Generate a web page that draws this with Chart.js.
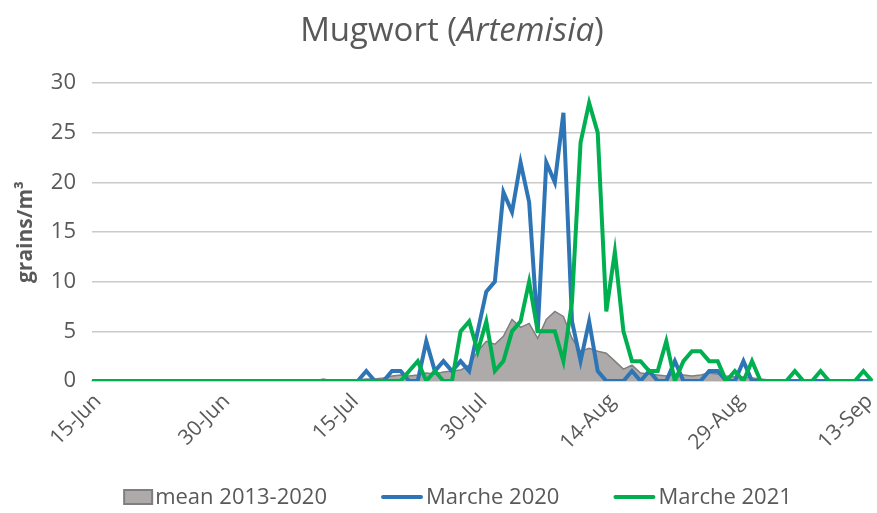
<!DOCTYPE html>
<html><head><meta charset="utf-8">
<script src="https://cdn.jsdelivr.net/npm/chart.js@4/dist/chart.umd.min.js"></script>
<style>html,body{margin:0;padding:0;background:#fff}#wrap{width:877px;height:513px}</style>
</head><body><div id="wrap"><canvas id="c" width="877" height="513"></canvas></div>
<script>
// ---- data ----
const startDay = {year: 2021, month: 5, day: 15}; // 15 June
const dayCount = 92;
const monthNames = ['Jan','Feb','Mar','Apr','May','Jun','Jul','Aug','Sep','Oct','Nov','Dec'];
const tickLabels = ['15-Jun','30-Jun','15-Jul','30-Jul','14-Aug','29-Aug','13-Sep'];
const yTickValues = [0,5,10,15,20,25,30];
const seriesNames = ['mean 2013-2020','Marche 2020','Marche 2021'];
const chartTitle = ['Mugwort (', 'Artemisia', ')'];
const yAxisTitle = 'grains/m³';

const mean2013_2020 = [
 0,0,0,0,0,0,0,0,0,0, 0,0,0,0,0,0,0,0,0,0, 0,0,0,0,0,0,0,0.2,0,0,
 0.05,0.1,0.2,0.2,0.3,0.5,0.6,0.5,0.6,0.8,
 0.7,0.9,1.0,1.1,1.6,3.0,4.0,3.7,4.5,6.2,
 5.4,5.8,4.3,6.2,7.0,6.5,4.3,3.0,3.3,3.0,
 2.8,2.0,1.2,1.6,0.8,0.7,0.6,0.5,0.7,0.6,
 0.5,0.6,0.8,0.7,0.5,0.4,0.4,0.3,0.2,0.1,
 0.1,0,0,0,0,0,0,0,0,0,0,0
];
const marche2020 = [
 0,0,0,0,0,0,0,0,0,0, 0,0,0,0,0,0,0,0,0,0, 0,0,0,0,0,0,0,0,0,0,
 0,0,1,0,0,1,1,0,0,4,
 1,2,1,2,1,5,9,10,19,17,
 22,18,5,22,20,27,6,2,6,1,
 0,0,0,1,0,1,0,0,2,0,
 0,0,1,1,0,0,2,0,0,0,
 0,0,0,0,0,0,0,0,0,0,0,0
];
const marche2021 = [
 0,0,0,0,0,0,0,0,0,0, 0,0,0,0,0,0,0,0,0,0, 0,0,0,0,0,0,0,0,0,0,
 0,0,0,0,0,0,0,1,2,0,
 1,0,0,5,6,3,6,1,2,5,
 6,10,5,5,5,2,8,24,28,25,
 7,13,5,2,2,1,1,4,0,2,
 3,3,2,2,0,1,0,2,0,0,
 0,0,1,0,0,1,0,0,0,0,1,0
];

// ---- build categories ----
const categories = [];
for (let i = 0; i < dayCount; i++) {
  const d = new Date(Date.UTC(startDay.year, startDay.month, startDay.day + i));
  categories.push(d.getUTCDate() + '-' + monthNames[d.getUTCMonth()]);
}

const TEXT = '#595959';
const FONT = '"Open Sans", sans-serif';
const colors = {mean: '#aeaaaa', meanBorder: '#7f7f7f', c2020: '#2e75b6', c2021: '#00b050'};

const titlePlugin = {
  id: 'mixedTitle',
  afterDraw(chart) {
    const ctx = chart.ctx;
    ctx.save();
    ctx.fillStyle = TEXT;
    ctx.textBaseline = 'alphabetic';
    const fonts = ['33px ' + FONT, 'italic 33px ' + FONT, '33px ' + FONT];
    let widths = chartTitle.map((t, i) => { ctx.font = fonts[i]; return ctx.measureText(t).width; });
    const total = widths.reduce((a, b) => a + b, 0);
    let x = 452 - total / 2;
    chartTitle.forEach((t, i) => { ctx.font = fonts[i]; ctx.textAlign = 'left'; ctx.fillText(t, x, 41); x += widths[i]; });
    ctx.restore();
  }
};

const legendPlugin = {
  id: 'bottomLegend',
  afterDraw(chart) {
    const ctx = chart.ctx;
    ctx.save();
    ctx.font = '22px ' + FONT;
    const items = chart.data.datasets.map(ds => ({ds, sym: ds.fill ? 28 : 42, w: ctx.measureText(ds.label).width}));
    const gap = 3, itemGap = 54;
    const total = items.reduce((a, it) => a + it.sym + gap + it.w, 0) + itemGap * (items.length - 1);
    let x = 458 - total / 2;
    const y = 497;
    items.forEach(it => {
      if (it.ds.fill) {
        ctx.fillStyle = it.ds.backgroundColor;
        ctx.fillRect(x, y - 7, it.sym, 14);
        ctx.strokeStyle = it.ds.borderColor; ctx.lineWidth = 2;
        ctx.strokeRect(x, y - 7, it.sym, 14);
      } else {
        ctx.strokeStyle = it.ds.borderColor; ctx.lineWidth = 4; ctx.lineCap = 'round';
        ctx.beginPath(); ctx.moveTo(x + 2, y); ctx.lineTo(x + it.sym - 2, y); ctx.stroke();
      }
      x += it.sym + gap;
      ctx.fillStyle = TEXT; ctx.textAlign = 'left'; ctx.textBaseline = 'middle';
      ctx.fillText(it.ds.label, x, y + 1);
      x += it.w + itemGap;
    });
    ctx.restore();
  }
};

new Chart(document.getElementById('c'), {
  type: 'line',
  data: {
    labels: categories,
    datasets: [
      {label: seriesNames[0], data: mean2013_2020, fill: 'origin', backgroundColor: colors.mean,
       borderColor: colors.meanBorder, borderWidth: 1.5, pointRadius: 0, tension: 0, order: 3},
      {label: seriesNames[1], data: marche2020, fill: false, borderColor: colors.c2020,
       backgroundColor: colors.c2020, borderWidth: 4, pointRadius: 0, tension: 0, order: 2},
      {label: seriesNames[2], data: marche2021, fill: false, borderColor: colors.c2021,
       backgroundColor: colors.c2021, borderWidth: 4, pointRadius: 0, tension: 0, order: 1}
    ]
  },
  options: {
    responsive: false,
    animation: false,
    devicePixelRatio: 1,
    layout: {padding: {top: 83, right: 5, left: 0, bottom: 0}},
    plugins: {legend: {display: false}, title: {display: false}, tooltip: {enabled: false}},
    scales: {
      x: {
        offset: false,
        grid: {display: false, drawTicks: false},
        border: {display: true, color: '#d0d0d0', width: 1.5},
        ticks: {
          autoSkip: false, maxRotation: 45, minRotation: 45, padding: 8, labelOffset: 6,
          color: TEXT, font: {family: FONT, size: 21},
          callback: function (v, i) { const l = categories[i]; return tickLabels.includes(l) ? l : ''; }
        },
        afterFit(scale) { scale.height = 513 - 381; scale.paddingRight = 0; scale.paddingLeft = 0; }
      },
      y: {
        min: 0, max: 30,
        afterBuildTicks(scale) { scale.ticks = yTickValues.map(v => ({value: v})); },
        grid: {color: '#cacaca', lineWidth: 1.5, drawTicks: false},
        border: {display: false},
        ticks: {color: TEXT, font: {family: FONT, size: 22}, padding: 16},
        title: {display: true, text: yAxisTitle, color: TEXT, font: {family: FONT, size: 21, weight: 'bold'},
                padding: {top: 13, bottom: 0}},
        afterFit(scale) { scale.width = 92; scale.paddingTop = 0; scale.paddingBottom = 0; }
      }
    }
  },
  plugins: [titlePlugin, legendPlugin]
});
</script></body></html>
